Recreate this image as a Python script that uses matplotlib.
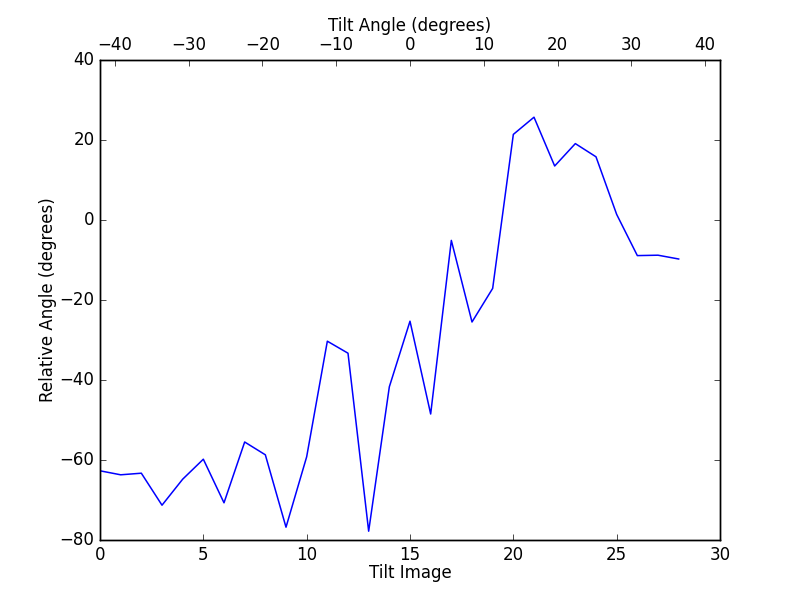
import numpy as np
import matplotlib
matplotlib.use('Agg')
import matplotlib.pyplot as plt
from matplotlib.ticker import MultipleLocator

# relative angle per tilt image
image_idx = np.arange(29)
rel_angle = [-62.7, -63.7, -63.3, -71.3, -64.8, -59.8, -70.7, -55.5, -58.7, -76.8,
             -59.2, -30.3, -33.3, -77.8, -41.7, -25.3, -48.5, -5.1, -25.5, -17.1,
             21.4, 25.7, 13.5, 19.1, 15.8, 1.4, -8.9, -8.8, -9.75]
tilt_range = (-42, 42)

def main():
  plt.style.use('classic')
  fig, ax = plt.subplots(figsize=(8, 6), dpi=100)
  fig.patch.set_facecolor('white')
  ax.plot(image_idx, rel_angle, 'b-', lw=1.1)
  ax.set_xlim(0, 30)
  ax.set_ylim(-80, 40)
  ax.set_xlabel('Tilt Image', labelpad=0)
  ax.set_ylabel('Relative Angle (degrees)', labelpad=1.5)

  # top axis shows the tilt angle
  ax2 = ax.twiny()
  ax2.set_xlim(*tilt_range)
  ax2.xaxis.set_major_locator(MultipleLocator(10))
  ax2.set_xlabel('Tilt Angle (degrees)', labelpad=4)

  fig.savefig('out.png', dpi=100, facecolor='white')

if __name__ == '__main__':
  main()
